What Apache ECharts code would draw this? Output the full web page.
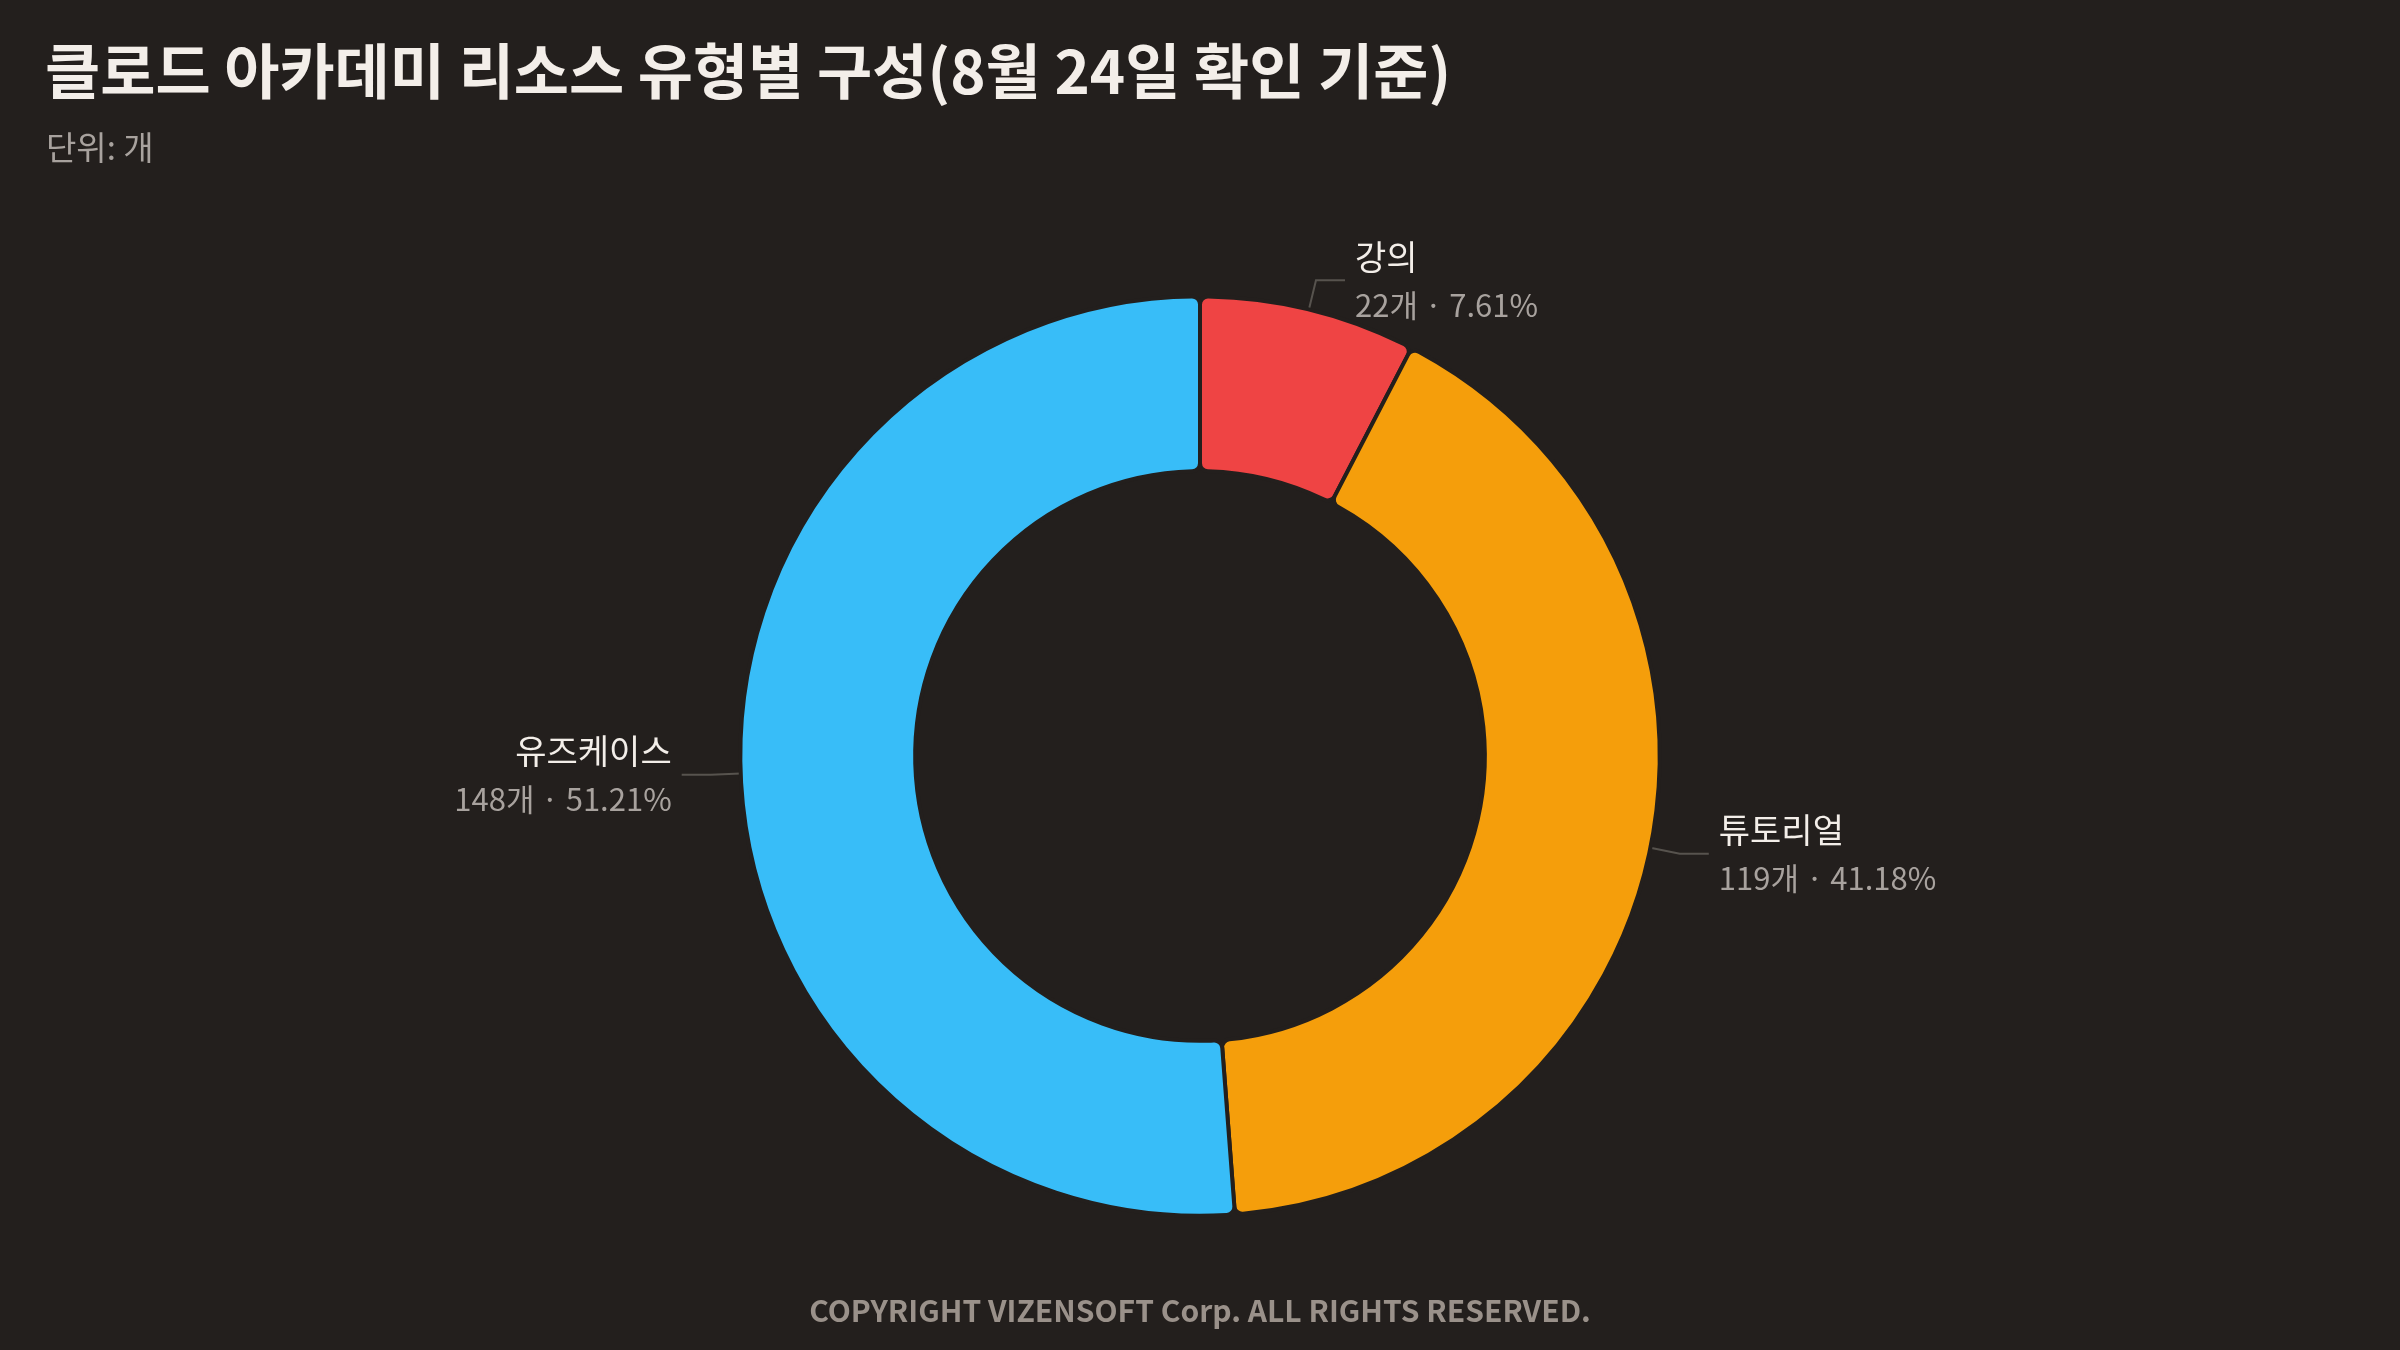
<!DOCTYPE html>
<html>
<head>
<meta charset="utf-8">
<script src="https://cdn.jsdelivr.net/npm/echarts@6/dist/echarts.min.js"></script>
<style>
html,body{margin:0;padding:0;background:#231f1d;}
#chart{width:2400px;height:1350px;}
</style>
</head>
<body>
<div id="chart"></div>
<script>
const titleText = '클로드 아카데미 리소스 유형별 구성(8월 24일 확인 기준)';
const subtitleText = '단위: 개';
const footerText = 'COPYRIGHT VIZENSOFT Corp. ALL RIGHTS RESERVED.';
const categories = ['강의', '튜토리얼', '유즈케이스'];
const values = [22, 119, 148];
const colors = ['#EF4444', '#F59E0B', '#38BDF8'];

const FONT = '"Noto Sans CJK KR", "Noto Sans", sans-serif';
const chart = echarts.init(document.getElementById('chart'));
chart.setOption({
  backgroundColor: '#231f1d',
  textStyle: { fontFamily: FONT },
  title: [
    { text: titleText, left: 40, top: 36,
      textStyle: { color: '#f3eee9', fontSize: 60, fontWeight: 'bold', fontFamily: FONT } },
    { text: subtitleText, left: 41, top: 126,
      textStyle: { color: '#a8a29e', fontSize: 33, fontWeight: 'normal', fontFamily: FONT } },
    { text: footerText, left: 'center', top: 1291,
      textStyle: { color: '#9a918a', fontSize: 30, fontWeight: 'bold', fontFamily: FONT } }
  ],
  series: [{
    type: 'pie',
    center: ['50%', '56%'],
    radius: ['42.2%', '68.1%'],
    startAngle: 90,
    clockwise: true,
    avoidLabelOverlap: true,
    itemStyle: { borderColor: '#231f1d', borderWidth: 4, borderRadius: 8 },
    label: {
      show: true,
      formatter: '{n|{b}}\n{v|{c}개 · {d}%}',
      distanceToLabelLine: 10,
      rich: {
        n: { color: '#f3eee9', fontSize: 34, lineHeight: 49, fontFamily: FONT },
        v: { color: '#a8a29e', fontSize: 31, lineHeight: 47, fontFamily: FONT }
      }
    },
    labelLine: {
      show: true, length: 30, length2: 29,
      lineStyle: { color: '#57534e', width: 2 }
    },
    emphasis: { disabled: true },
    data: categories.map((c, i) => ({ name: c, value: values[i], itemStyle: { color: colors[i] } }))
  }]
});
</script>
</body>
</html>
